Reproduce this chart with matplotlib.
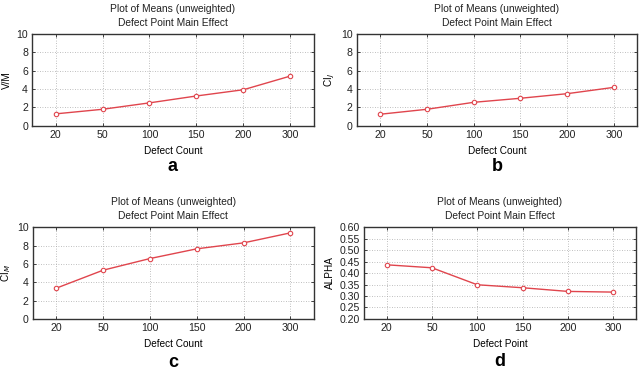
import numpy as np
import matplotlib
matplotlib.use("Agg")
import matplotlib.pyplot as plt

plt.rcParams['font.family'] = ['Liberation Sans', 'DejaVu Sans']

categories = ['20', '50', '100', '150', '200', '300']
vm = [1.3, 1.8, 2.5, 3.25, 3.93, 5.42]
ci_j = [1.26, 1.8, 2.56, 3.0, 3.5, 4.19]
ci_m = [3.35, 5.31, 6.58, 7.64, 8.29, 9.38]
alpha = [0.436, 0.423, 0.349, 0.336, 0.320, 0.317]

line_col = '#e0454d'

fig = plt.figure(figsize=(6.43, 3.70), dpi=100)

# left, bottom, width, height (figure fractions)
boxes = [
    [0.050, 0.660, 0.438, 0.248],
    [0.555, 0.660, 0.436, 0.248],
    [0.051, 0.138, 0.437, 0.248],
    [0.566, 0.138, 0.423, 0.248],
]
letter_y = [0.551, 0.551, 0.020, 0.022]
panels = [
    (vm, 'V/M', 'Defect Count', 'a', (0, 10), np.arange(0, 11, 2)),
    (ci_j, 'CI$_J$', 'Defect Count', 'b', (0, 10), np.arange(0, 11, 2)),
    (ci_m, 'CI$_M$', 'Defect Count', 'c', (0, 10), np.arange(0, 11, 2)),
    (alpha, 'ALPHA', 'Defect Point', 'd', (0.2, 0.6), np.arange(0.2, 0.601, 0.05)),
]

x = np.arange(len(categories))
for box, ly, (vals, ylab, xlab, letter, ylim, yt) in zip(boxes, letter_y, panels):
    ax = fig.add_axes(box)
    ax.plot(x, vals, color=line_col, lw=1.0, marker='o', ms=3.2,
            mfc='white', mec=line_col, mew=0.8)
    ax.set_xlim(-0.5, len(categories) - 0.5)
    ax.set_ylim(*ylim)
    ax.set_xticks(x)
    ax.set_xticklabels(categories)
    ax.set_yticks(yt)
    if letter == 'd':
        ax.set_yticklabels(['%.2f' % v for v in yt])
    ax.grid(True, color='#aaaaaa', ls=(0, (1, 2)), lw=0.6)
    for s in ax.spines.values():
        s.set_color('#333333')
        s.set_linewidth(1.0)
    ax.tick_params(direction='in', length=2.5, width=0.6, labelsize=7.6,
                   top=True, right=True, pad=3, colors='#222222')
    ax.set_ylabel(ylab, fontsize=7.2, labelpad=3)
    ax.set_xlabel(xlab, fontsize=7.2, labelpad=4)
    ax.set_title('Plot of Means (unweighted)\nDefect Point Main Effect',
                 fontsize=7.4, linespacing=1.45, pad=6, color='#222222')
    cx = box[0] + box[2] / 2
    fig.text(cx, ly, letter, fontsize=13, fontweight='bold',
             ha='center', va='center')

fig.savefig('out.png', dpi=100)
